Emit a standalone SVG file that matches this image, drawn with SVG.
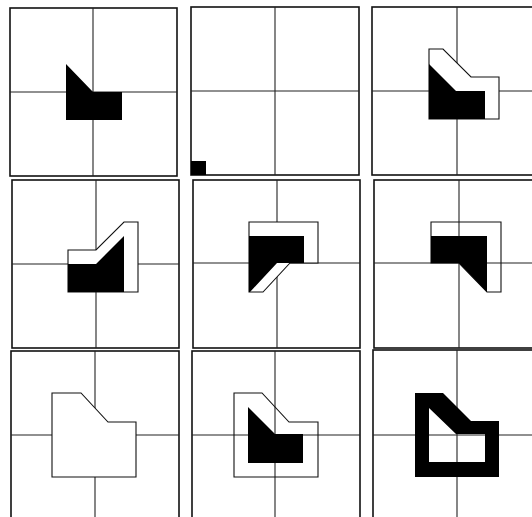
<svg xmlns="http://www.w3.org/2000/svg" width="532" height="517" viewBox="0 0 532 517">
<style>
.frame{fill:#fff;stroke:#111;stroke-width:1.6}
.grid{stroke:#222;stroke-width:1.1;fill:none}
.blk{fill:#000;stroke:none}
.out{fill:#fff;stroke:#111;stroke-width:1.1;stroke-linejoin:miter}
.outn{fill:none;stroke:#111;stroke-width:1.1}
</style>
<rect width="532" height="517" fill="#fff"/>
<g id="panel1">
<rect class="frame" x="10" y="8" width="167" height="168"/>
<g class="grid"><line x1="93" y1="8" x2="93" y2="176"/><line x1="10" y1="92" x2="177" y2="92"/></g>
<polygon class="blk" points="66,64 93,92 122,92 122,120 66,120"/>
</g>
<g id="panel2">
<rect class="frame" x="191" y="7" width="168" height="168"/>
<g class="grid"><line x1="275" y1="7" x2="275" y2="175"/><line x1="191" y1="91" x2="359" y2="91"/></g>
<rect class="blk" x="191" y="161" width="15" height="14"/>
</g>
<g id="panel3">
<rect class="frame" x="372" y="7" width="170" height="168"/>
<g class="grid"><line x1="457" y1="7" x2="457" y2="175"/><line x1="372" y1="91" x2="532" y2="91"/></g>
<polygon class="out" points="429,49 443,49 471,77 499,77 499,119 429,119"/>
<polygon class="blk" points="429,64 456,91 485,91 485,119 429,119"/>
</g>
<g id="panel4">
<rect class="frame" x="12" y="180" width="167" height="168"/>
<g class="grid"><line x1="96" y1="180" x2="96" y2="348"/><line x1="12" y1="264" x2="179" y2="264"/></g>
<polygon class="out" points="68,250 96,250 124,222 138,222 138,292 68,292"/>
<polygon class="blk" points="68,264 96,264 124,236 124,292 68,292"/>
</g>
<g id="panel5">
<rect class="frame" x="193" y="180" width="167" height="168"/>
<g class="grid"><line x1="277" y1="180" x2="277" y2="348"/><line x1="193" y1="263" x2="360" y2="263"/></g>
<polygon class="out" points="249,222 318,222 318,263 290,263 263,292 249,292"/>
<polygon class="blk" points="249,236 304,236 304,263 277,263 250,292 249,292"/>
</g>
<g id="panel6">
<rect class="frame" x="374" y="180" width="170" height="168"/>
<g class="grid"><line x1="459" y1="180" x2="459" y2="348"/><line x1="374" y1="263" x2="532" y2="263"/></g>
<polygon class="outn" points="431,222 501,222 501,292 487,292 459,263 431,263"/>
<polygon class="blk" points="431,236 487,236 487,292 459,263 431,263"/>
</g>
<g id="panel7">
<rect class="frame" x="11" y="351" width="168" height="180"/>
<g class="grid"><line x1="95" y1="351" x2="95" y2="517"/><line x1="11" y1="435" x2="179" y2="435"/></g>
<polygon class="out" points="52,393 81,393 108,422 136,422 136,477 52,477"/>
</g>
<g id="panel8">
<rect class="frame" x="192" y="351" width="168" height="180"/>
<g class="grid"><line x1="275" y1="351" x2="275" y2="517"/><line x1="192" y1="435" x2="360" y2="435"/></g>
<polygon class="outn" points="234,393 262,393 289,422 318,422 318,477 234,477"/>
<polygon class="blk" points="248,407 275,434 303,434 303,463 248,463"/>
</g>
<g id="panel9">
<rect class="frame" x="373" y="350" width="170" height="180"/>
<g class="grid"><line x1="457" y1="350" x2="457" y2="517"/><line x1="373" y1="435" x2="532" y2="435"/></g>
<path class="blk" fill-rule="evenodd" d="M415,393 L443,393 L471,421 L499,421 L499,477 L415,477 Z M429,408 L456,434 L485,434 L485,462 L429,462 Z"/>
</g>
</svg>
